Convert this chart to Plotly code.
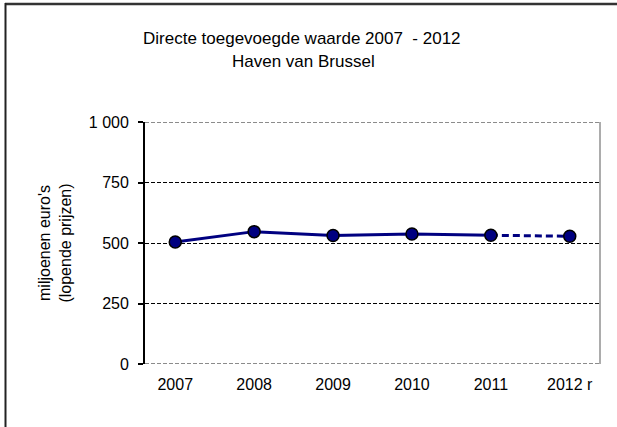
import plotly.graph_objects as go

categories = ["2007", "2008", "2009", "2010", "2011", "2012 r"]
values = [504, 547, 531, 537, 532, 528]
y_tickvals = [0, 250, 500, 750, 1000]
y_ticktext = ["0", "250", "500", "750", "1 000"]
title_lines = ["Directe toegevoegde waarde 2007  - 2012", "Haven van Brussel"]

navy = "#000080"
fig = go.Figure()
fig.add_trace(go.Scatter(
    x=categories[:5], y=values[:5], mode="lines",
    line=dict(color=navy, width=3), hoverinfo="skip", showlegend=False))
fig.add_trace(go.Scatter(
    x=categories[4:], y=values[4:], mode="lines",
    line=dict(color=navy, width=3, dash="7px,4px"), hoverinfo="skip", showlegend=False))
fig.add_trace(go.Scatter(
    x=categories, y=values, mode="markers",
    marker=dict(color=navy, size=12, line=dict(color="black", width=1.5)),
    showlegend=False))

font = "Liberation Sans, Arial, sans-serif"
W, H = 617, 427
L, R, T, B = 145, 17, 122, 63
pw, ph = W - L - R, H - T - B

def px_x(x):
    return (x - L) / pw

def px_y(y):
    return (H - B - y) / ph

annotations = [
    dict(text=title_lines[0], xref="paper", yref="paper", x=px_x(302), y=px_y(38),
         xanchor="center", yanchor="middle", showarrow=False,
         font=dict(size=17, family=font, color="black")),
    dict(text=title_lines[1], xref="paper", yref="paper", x=px_x(303), y=px_y(61),
         xanchor="center", yanchor="middle", showarrow=False,
         font=dict(size=17, family=font, color="black")),
]

fig.update_layout(
    width=W, height=H,
    margin=dict(l=L, r=R, t=T, b=B),
    paper_bgcolor="white", plot_bgcolor="white",
    font=dict(family=font, size=16, color="black"),
    annotations=annotations,
    xaxis=dict(type="category", showgrid=False, showline=False, ticks="",
               tickfont=dict(size=16), ticklabelstandoff=9),
    yaxis=dict(range=[0, 1000], tickvals=y_tickvals, ticktext=y_ticktext,
               showgrid=True, gridcolor="black", griddash="4px,2px", gridwidth=1,
               zeroline=False, showline=True, linecolor="black", linewidth=1.8,
               ticks="outside", ticklen=5, tickcolor="black", tickwidth=1.5,
               tickfont=dict(size=16), ticklabelstandoff=6,
               title=dict(text="miljoenen euro's<br>(lopende prijzen)",
                          font=dict(size=16), standoff=13)),
    shapes=[
        dict(type="line", xref="paper", yref="y", x0=0, x1=1, y0=1000, y1=1000,
             line=dict(color="#8c8c8c", width=2, dash="4px,2px")),
        dict(type="line", xref="paper", yref="y", x0=0, x1=1, y0=0, y1=0,
             line=dict(color="#8c8c8c", width=2, dash="4px,2px")),
        dict(type="line", xref="paper", yref="paper", x0=1, x1=1, y0=0, y1=1,
             line=dict(color="#909090", width=1.5)),
        # outer frame (top and left edges visible)
        dict(type="line", xref="paper", yref="paper", x0=px_x(5), x1=px_x(W),
             y0=px_y(4), y1=px_y(4), line=dict(color="#333333", width=2.5)),
        dict(type="line", xref="paper", yref="paper", x0=px_x(5.5), x1=px_x(5.5),
             y0=px_y(H), y1=px_y(3), line=dict(color="#222222", width=2)),
    ],
)
fig.write_html("out.html", config={"displayModeBar": False},
               post_script="document.body.style.margin='0';document.body.style.overflow='hidden';")
